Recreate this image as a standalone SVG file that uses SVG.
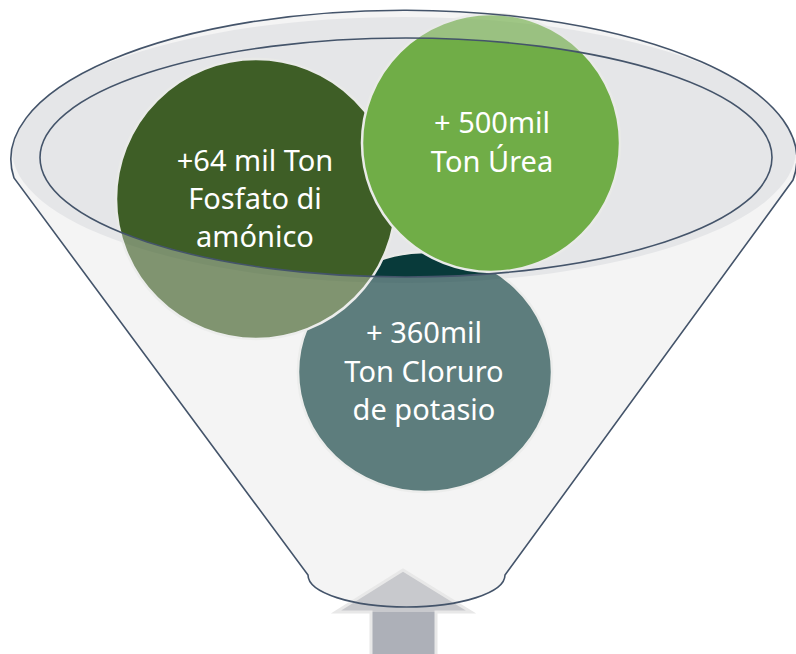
<svg xmlns="http://www.w3.org/2000/svg" width="796" height="654" viewBox="0 0 796 654">
<defs>
<style>
.outline{fill:none;stroke:#44546a;stroke-width:1.6}
.circ{stroke:#e9eae8;stroke-width:2.5}
.lbl{font-family:"Noto Sans","Open Sans","DejaVu Sans",sans-serif;font-size:29px;fill:#ffffff;text-anchor:middle}
</style>
<clipPath id="bodyClip"><path d="M14,178 A393,149 0 1 1 793,180 L505,575 A98.5,32 0 0 1 308,575 Z"/></clipPath>
<linearGradient id="arrowFill" gradientUnits="userSpaceOnUse" x1="0" y1="570" x2="0" y2="654">
<stop offset="0" stop-color="#c8c9cd"/><stop offset="0.5" stop-color="#c8c9cd"/>
<stop offset="0.5" stop-color="#adb0b8"/><stop offset="1" stop-color="#adb0b8"/>
</linearGradient>
</defs>
<rect width="796" height="654" fill="#ffffff"/>
<g id="funnel">
<path d="M14,178 A393,149 0 1 1 793,180 L505,575 A98.5,32 0 0 1 308,575 Z" fill="#f4f4f4"/>
<ellipse cx="404" cy="150" rx="392" ry="133" fill="#e5e6e8" clip-path="url(#bodyClip)"/>
</g>
<g id="circle-potasio"><ellipse cx="425" cy="372" rx="127" ry="120" fill="#083a3a" class="circ"/></g>
<g id="circle-fosfato"><circle cx="256" cy="199" r="140" fill="#3e5e26" class="circ"/></g>
<g id="circle-urea"><circle cx="491" cy="143" r="129" fill="#70ad47" class="circ"/></g>
<g id="funnel-overlay" opacity="0.36">
<path fill-rule="evenodd" fill="#f4f4f4" d="M14,178 A393,149 0 1 1 793,180 L505,575 A98.5,32 0 0 1 308,575 Z M40,157.5 a366,119.5 0 1,0 732,0 a366,119.5 0 1,0 -732,0 Z"/>
<path fill-rule="evenodd" fill="#e5e6e8" clip-path="url(#bodyClip)" d="M12,150 a392,133 0 1,0 784,0 a392,133 0 1,0 -784,0 Z M40,157.5 a366,119.5 0 1,0 732,0 a366,119.5 0 1,0 -732,0 Z"/>
</g>
<g id="arrow">
<path d="M403,570 L471,612 L436,612 L436,656 L371,656 L371,612 L336,612 Z" fill="url(#arrowFill)" stroke="#e8e8e8" stroke-width="3" stroke-linejoin="miter"/>
</g>
<g id="funnel-lines">
<ellipse class="outline" cx="406" cy="157.5" rx="366" ry="119.5"/>
<path class="outline" d="M14,178 A393,149 0 1 1 793,180 L505,575 A98.5,32 0 0 1 308,575 Z"/>
</g>
<g id="connectors"/>
<g id="labels">
<text class="lbl" x="255" y="171">+64 mil Ton</text>
<text class="lbl" x="255" y="209">Fosfato di</text>
<text class="lbl" x="255" y="247">amónico</text>
<text class="lbl" x="492" y="133">+ 500mil</text>
<text class="lbl" x="492" y="172">Ton Úrea</text>
<text class="lbl" x="424" y="343">+ 360mil</text>
<text class="lbl" x="424" y="382">Ton Cloruro</text>
<text class="lbl" x="424" y="420">de potasio</text>
</g>
</svg>
